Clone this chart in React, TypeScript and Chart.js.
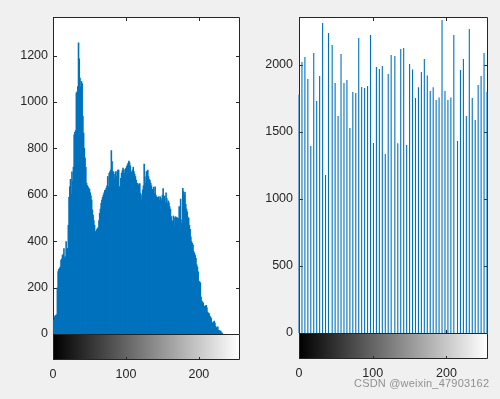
import React, { useEffect, useRef } from 'react';
import { Chart, registerables } from 'chart.js';

Chart.register(...registerables);

// Histogram of the original image: counts for grey levels 0..255
const originalCounts: number[] = [
  0, 60, 75, 80, 82, 85, 200, 270, 280, 285,
  290, 320, 325, 340, 345, 370, 330, 335, 400, 365,
  370, 470, 590, 636, 668, 603, 700, 660, 720, 860,
  870, 878, 1040, 1045, 1068, 1256, 1187, 1104, 1066, 1090,
  1080, 939, 867, 802, 759, 720, 651, 641, 636, 629,
  625, 610, 597, 579, 536, 514, 490, 470, 442, 445,
  451, 456, 460, 490, 521, 540, 564, 579, 590, 600,
  610, 620, 622, 630, 640, 680, 636, 694, 700, 708,
  792, 744, 701, 700, 672, 690, 701, 680, 701, 708,
  708, 636, 636, 672, 694, 705, 716, 708, 694, 711,
  715, 723, 730, 737, 747, 740, 726, 690, 700, 708,
  720, 701, 690, 680, 665, 651, 651, 645, 636, 650,
  608, 579, 600, 622, 640, 734, 680, 651, 701, 704,
  708, 680, 668, 662, 651, 640, 625, 615, 634, 608,
  636, 600, 593, 590, 586, 593, 579, 593, 586, 575,
  600, 628, 593, 596, 567, 610, 586, 564, 575, 567,
  550, 539, 507, 478, 489, 510, 503, 461, 507, 504,
  503, 500, 500, 550, 503, 583, 478, 495, 629, 615,
  600, 612, 560, 540, 528, 505, 500, 470, 452, 420,
  400, 392, 385, 356, 350, 340, 327, 300, 290, 269,
  230, 226, 222, 161, 143, 140, 135, 122, 121, 122,
  125, 115, 96, 92, 89, 79, 75, 68, 43, 50,
  53, 57, 49, 35, 29, 25, 32, 17, 16, 14,
  14, 7, 5, 0, 0, 0, 0, 0, 0, 0,
  0, 0, 0, 0, 0, 0, 0, 0, 0, 0,
  0, 0, 0, 0, 0, 0,
];

// Histogram of the equalized image: 64 occupied grey levels
const equalizedLevels: number[] = [
  0, 4, 8, 12, 16, 20, 24, 28, 32, 36, 40, 45, 49, 53, 57, 61,
  65, 69, 73, 77, 81, 85, 89, 93, 97, 101, 105, 109, 113, 117, 121, 125,
  130, 134, 138, 142, 146, 150, 154, 158, 162, 166, 170, 174, 178, 182, 186, 190,
  194, 198, 202, 206, 210, 215, 219, 223, 227, 231, 235, 239, 243, 247, 251, 255,
];
const equalizedCounts: number[] = [
  1780, 2022, 2060, 1896, 1396, 2090, 1731, 1918, 2313, 1179, 2239, 2149, 1866, 1619, 2082, 1866,
  1888, 1530, 1799, 1791, 2201, 1836, 1828, 1843, 2224, 1418, 1985, 1970, 1993, 1336, 1933, 2075,
  2067, 1415, 2119, 2127, 1403, 2007, 1967, 1754, 1833, 1948, 2045, 1922, 1806, 1833, 1739, 1758,
  2336, 1806, 1739, 1758, 2224, 1433, 1963, 2045, 1619, 2269, 1754, 1590, 1851, 1918, 2090, 1800,
];

const xTickValues: number[] = [0, 100, 200];
const leftYTickValues: number[] = [0, 200, 400, 600, 800, 1000, 1200];
const rightYTickValues: number[] = [0, 500, 1000, 1500, 2000];
const xMax = 255;
const leftYMax = 1366;
const rightYMax = 2358;

const BLUE = '#0072BD';
const AXIS = '#262626';
const FONT = "'Liberation Sans', Arial, Helvetica, sans-serif";
const COLORBAR_H = 25;

const decorPlugin = {
  id: 'matlabDecor',
  beforeDraw(chart: any) {
    const { ctx, chartArea: a } = chart;
    ctx.save();
    ctx.fillStyle = '#ffffff';
    ctx.fillRect(a.left, a.top, a.right - a.left + 1, a.bottom - a.top + 1);
    ctx.restore();
  },
  beforeDatasetsDraw(chart: any) {
    const { ctx, chartArea: a, scales } = chart;
    const xs = scales.x;
    const ys = scales.y;
    ctx.save();
    ctx.strokeStyle = AXIS;
    ctx.lineWidth = 1;
    ctx.beginPath();
    ctx.rect(a.left + 0.5, a.top + 0.5, a.right - a.left, a.bottom - a.top);
    ys.ticks.forEach((t: any) => {
      const y = Math.round(ys.getPixelForValue(t.value)) + 0.5;
      ctx.moveTo(a.left, y);
      ctx.lineTo(a.left + 4, y);
      ctx.moveTo(a.right + 1, y);
      ctx.lineTo(a.right - 3, y);
    });
    xs.ticks.forEach((t: any) => {
      const x = Math.round(xs.getPixelForValue(t.value)) + 0.5;
      ctx.moveTo(x, a.top);
      ctx.lineTo(x, a.top + 4);
      ctx.moveTo(x, a.bottom + 1);
      ctx.lineTo(x, a.bottom - 3);
    });
    ctx.stroke();
    ctx.restore();
  },
  afterDatasetsDraw(chart: any) {
    const { ctx, chartArea: a, scales } = chart;
    const xs = scales.x;
    const x0 = Math.round(xs.getPixelForValue(0));
    const x1 = Math.round(xs.getPixelForValue(xMax));
    const top = a.bottom;
    ctx.save();
    const g = ctx.createLinearGradient(x0, 0, x1, 0);
    g.addColorStop(0, '#000000');
    g.addColorStop(1, '#ffffff');
    ctx.fillStyle = g;
    ctx.fillRect(x0, top, x1 - x0 + 1, COLORBAR_H);
    ctx.strokeStyle = AXIS;
    ctx.lineWidth = 1;
    ctx.beginPath();
    ctx.rect(x0 + 0.5, top + 0.5, x1 - x0, COLORBAR_H);
    xs.ticks.forEach((t: any) => {
      const x = Math.round(xs.getPixelForValue(t.value)) + 0.5;
      ctx.moveTo(x, top + COLORBAR_H + 1);
      ctx.lineTo(x, top + COLORBAR_H - 2);
    });
    ctx.stroke();
    ctx.restore();
  },
};

function buildConfig(
  points: { x: number; y: number }[],
  yMax: number,
  yTicks: number[],
  yAxisWidth: number,
  padRight: number,
  xAxisHeight: number,
  yLabelPad: number,
  thickness: number,
): any {
  return {
    type: 'bar',
    data: {
      datasets: [
        {
          data: points,
          backgroundColor: BLUE,
          borderWidth: 0,
          barThickness: thickness,
          inflateAmount: 0,
          clip: false,
        },
      ],
    },
    options: {
      animation: false,
      responsive: false,
      devicePixelRatio: 1,
      layout: { padding: { left: 0, right: padRight, top: 17, bottom: 0 } },
      plugins: { legend: { display: false }, tooltip: { enabled: false }, title: { display: false } },
      scales: {
        x: {
          type: 'linear',
          min: 0,
          max: xMax,
          offset: false,
          grid: { display: false, drawTicks: false },
          border: { display: false },
          ticks: {
            font: { family: FONT, size: 12.5 },
            color: AXIS,
            padding: 33,
            maxRotation: 0,
            autoSkip: false,
            callback: (v: any) => String(v),
          },
          afterBuildTicks: (s: any) => {
            s.ticks = xTickValues.map((v) => ({ value: v }));
          },
          afterFit: (s: any) => {
            s.height = xAxisHeight;
          },
        },
        y: {
          type: 'linear',
          min: 0,
          max: yMax,
          grid: { display: false, drawTicks: false },
          border: { display: false },
          ticks: {
            font: { family: FONT, size: 12.5 },
            color: AXIS,
            padding: yLabelPad,
            autoSkip: false,
            callback: (v: any) => String(v),
          },
          afterBuildTicks: (s: any) => {
            s.ticks = yTicks.map((v) => ({ value: v }));
          },
          afterFit: (s: any) => {
            s.width = yAxisWidth;
          },
        },
      },
    },
    plugins: [decorPlugin],
  };
}

export default function App() {
  const leftRef = useRef<HTMLCanvasElement>(null);
  const rightRef = useRef<HTMLCanvasElement>(null);

  useEffect(() => {
    const leftPoints = originalCounts.map((v, i) => ({ x: i, y: v }));
    const rightPoints = equalizedLevels.map((lv, i) => ({ x: lv, y: equalizedCounts[i] }));
    const c1 = new Chart(
      leftRef.current as HTMLCanvasElement,
      buildConfig(leftPoints, leftYMax, leftYTickValues, 53, 11, 65, 5, 1.6),
    );
    const c2 = new Chart(
      rightRef.current as HTMLCanvasElement,
      buildConfig(rightPoints, rightYMax, rightYTickValues, 49, 13, 66, 6, 1.1),
    );
    return () => {
      c1.destroy();
      c2.destroy();
    };
  }, []);

  return (
    <div
      style={{
        position: 'fixed',
        left: 0,
        top: 0,
        width: 500,
        height: 399,
        background: '#f0f0f0',
        overflow: 'hidden',
      }}
    >
      <canvas
        ref={leftRef}
        width={250}
        height={399}
        style={{ position: 'absolute', left: 0, top: 0, width: 250, height: 399 }}
      />
      <canvas
        ref={rightRef}
        width={250}
        height={399}
        style={{ position: 'absolute', left: 250, top: 0, width: 250, height: 399 }}
      />
      <div
        style={{
          position: 'absolute',
          left: 354,
          top: 377,
          fontFamily: FONT,
          fontSize: 11,
          color: 'rgba(120,120,120,0.8)',
          whiteSpace: 'nowrap',
          letterSpacing: 0.2,
        }}
      >
        CSDN @weixin_47903162
      </div>
    </div>
  );
}
